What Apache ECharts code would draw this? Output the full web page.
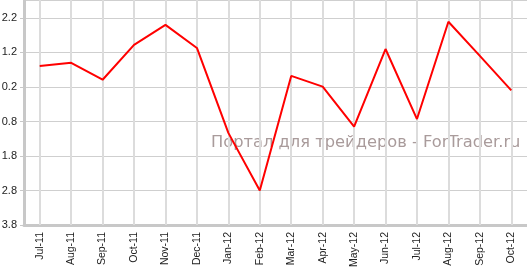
<!DOCTYPE html>
<html><head><meta charset="utf-8">
<script src="https://cdn.jsdelivr.net/npm/echarts@6/dist/echarts.min.js"></script>
<style>html,body{margin:0;padding:0;background:#fff}#c{width:527px;height:267px}</style>
</head><body><div id="c"></div>
<script>
const categories = ['Jul-11','Aug-11','Sep-11','Oct-11','Nov-11','Dec-11','Jan-12','Feb-12','Mar-12','Apr-12','May-12','Jun-12','Jul-12','Aug-12','Sep-12','Oct-12'];
const values = [0.81, 0.90, 0.41, 1.42, 2.00, 1.33, -1.13, -2.80, 0.52, 0.21, -0.95, 1.30, -0.73, 2.09, 1.10, 0.10];
const yMin = -3.8, yMax = 2.72, yStep = 1;
const watermark = 'Портал для трейдеров - ForTrader.ru';

const chart = echarts.init(document.getElementById('c'));
chart.setOption({
  animation: false,
  grid: {left: 24, right: 0, top: 0, bottom: 42, containLabel: false, outerBoundsMode: 'none'},
  graphic: [{type: 'text', left: 211, top: 135, silent: true, z: 1,
    style: {text: watermark, fill: '#a99b9b', font: '16.3px "DejaVu Sans"'}}],
  xAxis: {
    type: 'category', data: categories, boundaryGap: true,
    axisLine: {onZero: false, lineStyle: {color: '#c8c8c8', width: 3}},
    axisTick: {alignWithLabel: true, length: 4, lineStyle: {color: '#c8c8c8'}},
    axisLabel: {rotate: 90, margin: 7, fontSize: 10.5, color: '#222', fontFamily: 'Liberation Sans', interval: 0},
    splitLine: {show: false}
  },
  yAxis: {
    type: 'value', min: yMin, max: yMax, interval: yStep,
    axisLine: {show: true, onZero: false, lineStyle: {color: '#c8c8c8', width: 3}},
    axisTick: {show: true, length: 4, lineStyle: {color: '#c8c8c8'}},
    axisLabel: {margin: 7, fontSize: 11, color: '#222', fontFamily: 'Liberation Sans', showMaxLabel: false,
      formatter: v => Math.abs(v).toFixed(1)},
    splitLine: {lineStyle: {color: '#cfcfcf', width: 1}}
  },
  series: [{
    type: 'line', data: values, symbol: 'none', z: 3,
    lineStyle: {color: '#ff0000', width: 2},
    markLine: {silent: true, symbol: 'none', label: {show: false}, z: 1,
      lineStyle: {color: '#dcdcdc', width: 2, type: 'solid'},
      data: categories.map(c => ({xAxis: c}))}
  }]
});
</script></body></html>
